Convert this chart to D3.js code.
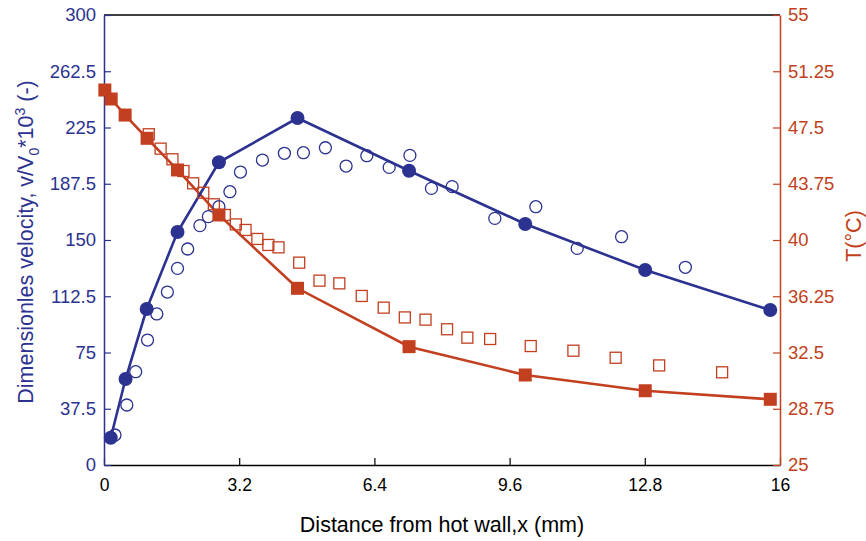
<!DOCTYPE html>
<html><head><meta charset="utf-8">
<script src="https://cdn.jsdelivr.net/npm/d3@7"></script>
<style>body{margin:0;background:#fff}svg{display:block}text{font-family:"Liberation Sans",Arial,sans-serif}</style>
</head><body>
<svg id="c" width="866" height="541"></svg>
<script>
const xTicks=[0,3.2,6.4,9.6,12.8,16];
const vTicks=[0,37.5,75,112.5,150,187.5,225,262.5,300];
const tTicks=[25,28.75,32.5,36.25,40,43.75,47.5,51.25,55];
// velocity, filled (line)
const velLineX=[0.16,0.51,1.01,1.74,2.72,4.58,7.22,9.97,12.81,15.77];
const velLineV=[18.2,57.3,104,155.3,201.8,231.3,196.2,160.7,130,103.3];
// velocity, open circles
const velPtsX=[0.26,0.54,0.75,1.03,1.25,1.5,1.74,1.98,2.27,2.47,2.72,2.98,3.23,3.75,4.27,4.72,5.24,5.73,6.22,6.75,7.24,7.75,8.24,9.25,10.22,11.2,12.25,13.76];
const velPtsV=[20,40,62.2,83.3,100.7,115.3,131.1,144,159.6,165.6,172.2,182.2,195.3,203.3,207.8,208.2,211.5,199.3,206.2,198.4,206.4,184.4,185.6,164.4,172.2,144.4,152.2,131.8];
// temperature, filled (line)
const tempLineX=[0.02,0.17,0.5,1.02,1.74,2.72,4.58,7.22,9.97,12.81,15.77];
const tempLineT=[50,49.4,48.33,46.78,44.67,41.67,36.78,32.89,31.0,29.95,29.38];
// temperature, open squares
const tempPtsX=[1.06,1.34,1.62,1.88,2.11,2.35,2.6,2.86,3.12,3.35,3.63,3.89,4.13,4.62,5.1,5.57,6.1,6.62,7.12,7.61,8.12,8.6,9.14,10.1,11.11,12.11,13.14,14.63];
const tempPtsT=[47.05,46.09,45.38,44.6,43.78,43.15,42.38,41.67,41.04,40.67,40.07,39.67,39.51,38.49,37.29,37.11,36.27,35.49,34.84,34.69,34.05,33.49,33.4,32.93,32.62,32.15,31.64,31.18];

const BLUE="#2c3290", RED="#c23f20";
const svg=d3.select("#c");
const L=104,R=780,T=15,B=465;
const x=d3.scaleLinear().domain([0,16]).range([L,R]);
const yv=d3.scaleLinear().domain([0,300]).range([B,T]);
const yt=d3.scaleLinear().domain([25,55]).range([B,T]);

svg.append("line").attr("x1",L).attr("x2",R).attr("y1",T).attr("y2",T).attr("stroke","#000").attr("stroke-width",1.5);

const fmt=d=>String(d);
const gx=svg.append("g").attr("transform",`translate(0,${B})`)
  .call(d3.axisBottom(x).tickValues(xTicks).tickFormat(fmt).tickSizeInner(-7).tickSizeOuter(0).tickPadding(13.5));
gx.select(".domain").attr("stroke","#000").attr("stroke-width",1.5);
gx.selectAll(".tick line").attr("stroke","#000").attr("stroke-width",1.2);
gx.selectAll("text").attr("fill","#000").attr("font-size",17.5).attr("font-family","'Liberation Sans',Arial,sans-serif");

const gl=svg.append("g").attr("transform",`translate(${L},0)`)
  .call(d3.axisLeft(yv).tickValues(vTicks).tickFormat(fmt).tickSizeInner(-7).tickSizeOuter(0).tickPadding(8));
gl.select(".domain").attr("stroke",BLUE).attr("stroke-width",1.5);
gl.selectAll(".tick line").attr("stroke",BLUE).attr("stroke-width",1.2);
gl.selectAll("text").attr("fill",BLUE).attr("font-size",18.5).attr("font-family","'Liberation Sans',Arial,sans-serif");

const gr=svg.append("g").attr("transform",`translate(${R},0)`)
  .call(d3.axisRight(yt).tickValues(tTicks).tickFormat(fmt).tickSizeInner(-7).tickSizeOuter(0).tickPadding(8));
gr.select(".domain").attr("stroke",RED).attr("stroke-width",1.5);
gr.selectAll(".tick line").attr("stroke",RED).attr("stroke-width",1.2);
gr.selectAll("text").attr("fill",RED).attr("font-size",18.5).attr("font-family","'Liberation Sans',Arial,sans-serif");

const vl=velLineX.map((d,i)=>[d,velLineV[i]]);
const tl=tempLineX.map((d,i)=>[d,tempLineT[i]]);
svg.append("path").datum(tl).attr("fill","none").attr("stroke",RED).attr("stroke-width",2.6)
  .attr("d",d3.line().x(d=>x(d[0])).y(d=>yt(d[1])));
svg.append("path").datum(vl).attr("fill","none").attr("stroke",BLUE).attr("stroke-width",2.6)
  .attr("d",d3.line().x(d=>x(d[0])).y(d=>yv(d[1])));

svg.append("g").selectAll("rect").data(tempPtsX.map((d,i)=>[d,tempPtsT[i]])).join("rect")
  .attr("x",d=>x(d[0])-5.5).attr("y",d=>yt(d[1])-5.5).attr("width",11).attr("height",11)
  .attr("fill","none").attr("stroke",RED).attr("stroke-width",1.3);
svg.append("g").selectAll("circle").data(velPtsX.map((d,i)=>[d,velPtsV[i]])).join("circle")
  .attr("cx",d=>x(d[0])).attr("cy",d=>yv(d[1])).attr("r",6)
  .attr("fill","none").attr("stroke",BLUE).attr("stroke-width",1.3);
svg.append("g").selectAll("rect").data(tl).join("rect")
  .attr("x",d=>x(d[0])-6.5).attr("y",d=>yt(d[1])-6.5).attr("width",13).attr("height",13)
  .attr("fill",RED);
svg.append("g").selectAll("circle").data(vl).join("circle")
  .attr("cx",d=>x(d[0])).attr("cy",d=>yv(d[1])).attr("r",7).attr("fill",BLUE);

svg.append("text").attr("x",442).attr("y",532).attr("text-anchor","middle")
  .attr("font-size",21.5).attr("fill","#000").text("Distance from hot wall,x (mm)");
const yl=svg.append("text").attr("transform","translate(33,242) rotate(-90)").attr("text-anchor","middle")
  .attr("font-size",21.5).attr("fill",BLUE);
yl.append("tspan").text("Dimensionles velocity, v/V");
yl.append("tspan").attr("font-size",14).attr("dy",6).text("0");
yl.append("tspan").attr("dy",-6).text("*10");
yl.append("tspan").attr("font-size",14).attr("dy",-8).text("3");
yl.append("tspan").attr("dy",8).text(" (-)");
svg.append("text").attr("transform","translate(861,236) rotate(-90)").attr("text-anchor","middle")
  .attr("font-size",21.5).attr("fill",RED).text("T(°C)");
</script>
</body></html>
